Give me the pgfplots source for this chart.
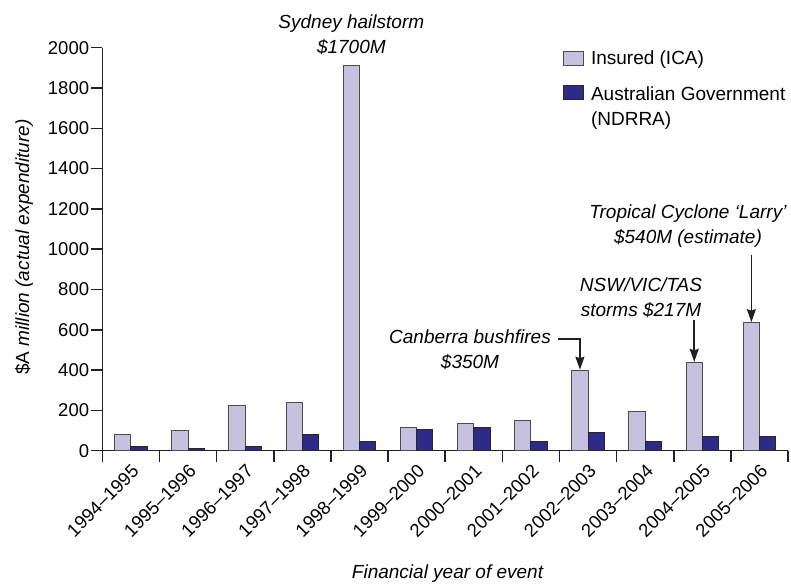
\documentclass[border=0pt]{standalone}
\usepackage{fontspec}
\setmainfont{Liberation Sans}
\usepackage{pgfplots}
\pgfplotsset{compat=1.18}
\usetikzlibrary{arrows.meta}
\definecolor{insured}{HTML}{C5C1DF}
\definecolor{ndrra}{HTML}{2E2A87}
\definecolor{axisc}{HTML}{231F20}
\newcommand\ff{\fontsize{19bp}{25bp}\selectfont}
\newcommand\tf{\fontsize{18.5bp}{24bp}\selectfont}
\begin{document}
\begin{tikzpicture}
\begin{axis}[
  scale only axis,
  width=685.8bp, height=403bp,
  xmin=-0.5, xmax=11.5, ymin=0, ymax=2000,
  axis x line*=bottom, axis y line*=left,
  axis line style={-, line width=1.5bp, color=axisc},
  tick align=outside,
  major tick length=11bp,
  every tick/.style={line width=1.5bp, color=axisc},
  /pgf/number format/assume math mode=true,
  /pgf/number format/1000 sep={},
  ytick={0,200,...,2000},
  xtick={-0.5,0.5,1.5,2.5,3.5,4.5,5.5,6.5,7.5,8.5,9.5,10.5,11.5},
  x tick label as interval=true,
  xticklabels={1994--1995,1995--1996,1996--1997,1997--1998,1998--1999,1999--2000,2000--2001,2001--2002,2002--2003,2003--2004,2004--2005,2005--2006},
  xticklabel style={rotate=45, anchor=north east, font=\tf, inner sep=1bp},
  yticklabel style={font=\tf, inner sep=2bp},
  ylabel={\upshape\$A \itshape million (actual expenditure)},
  ylabel style={font=\ff, at={(axis description cs:-0.1142,0.505)}, anchor=center},
  xlabel={Financial year of event},
  xlabel style={font=\ff\itshape, at={(axis description cs:0.5034,-0.306)}, anchor=center},
  clip=false,
  legend style={draw=none, fill=none, inner sep=0pt, outer sep=0pt,
    at={(axis description cs:0.6718,0.9926)}, anchor=north west,
    font=\ff, row sep=17bp, column sep=7bp,
    nodes={inner sep=0pt, outer sep=0pt}},
  legend cell align=left,
  legend image code/.code={\draw[#1] (0bp,-7.15bp) rectangle (20bp,7.15bp);},
]
\addplot[ybar, bar width=0.285, bar shift=-0.1425, fill=insured, draw=black!70, line width=1bp]
  coordinates {(0,82) (1,98) (2,222) (3,237) (4,1910) (5,113) (6,136) (7,152) (8,398) (9,195) (10,437) (11,635)};
\addlegendentry{Insured (ICA)}
\addplot[ybar, bar width=0.285, bar shift=0.1425, fill=ndrra, draw=black!85, line width=1bp]
  coordinates {(0,19) (1,9) (2,19) (3,78) (4,48) (5,107) (6,117) (7,48) (8,88) (9,47) (10,70) (11,70)};
\addlegendentry{\begin{tabular}[t]{@{}l@{}}Australian Government\\(NDRRA)\end{tabular}}
\coordinate (O) at (rel axis cs:0,0);
\node[font=\ff\itshape, align=center] at (axis cs:3.8575,2062) {Sydney hailstorm\\\$1700M};
\node[font=\ff\itshape, align=center] at (axis cs:5.934,500) {Canberra bushfires\\\$350M};
\draw[line width=1.5bp, color=axisc, -{Stealth[length=13bp,width=9bp,inset=1.5bp]}]
  (axis cs:7.469,554) -- (axis cs:7.8575,554) -- (axis cs:7.8575,402);
\node[font=\ff\itshape, align=center] at (axis cs:8.926,760) {NSW/VIC/TAS\\storms \$217M};
\draw[line width=1.5bp, color=axisc, -{Stealth[length=13bp,width=9bp,inset=1.5bp]}]
  (axis cs:9.8575,649) -- (axis cs:9.8575,441);
\node[font=\ff\itshape, align=center] at (axis cs:9.748,1113) {Tropical Cyclone `Larry'\\\$540M (estimate)};
\draw[line width=1.5bp, color=axisc, -{Stealth[length=13bp,width=9bp,inset=1.5bp]}]
  (axis cs:10.8575,971) -- (axis cs:10.8575,638);
\end{axis}
\pgfresetboundingbox
\path (O) ++(-102.3bp,-136.3bp) rectangle ++(791bp,587bp);
\end{tikzpicture}
\end{document}
